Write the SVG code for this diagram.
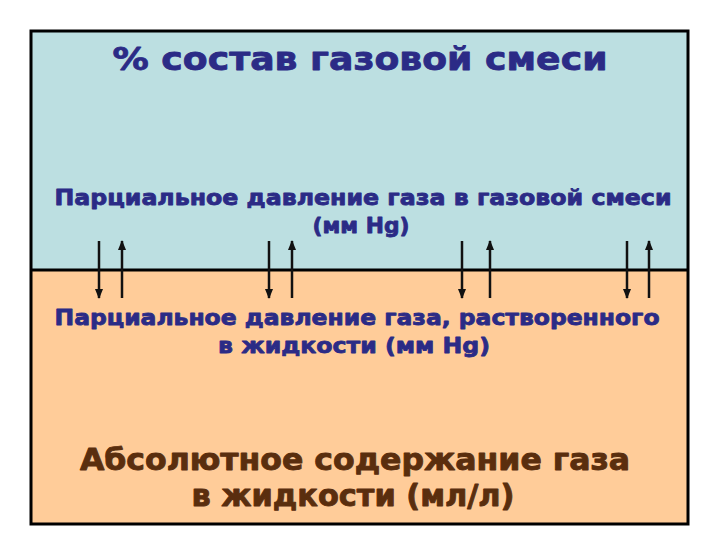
<svg xmlns="http://www.w3.org/2000/svg" width="720" height="540" viewBox="0 0 720 540">
<defs>
<marker id="ah" viewBox="0 0 10 8" refX="9" refY="4" markerWidth="10" markerHeight="8" markerUnits="userSpaceOnUse" orient="auto">
<path d="M0,0 L10,4 L0,8 Z" fill="#111"/>
</marker>
<style>
.t{font-family:"DejaVu Sans","Liberation Sans",sans-serif;font-weight:bold;text-anchor:middle;stroke-linejoin:round}
.blue{fill:#2B2B86;stroke:#2B2B86;stroke-width:0.8}
.brown{fill:#5A2E0E;stroke:#5A2E0E;stroke-width:0.9}
.ar{stroke:#111;stroke-width:2.5;fill:none}
</style>
</defs>
<rect width="720" height="540" fill="#fff"/>
<g id="gas">
<rect x="31" y="31" width="657" height="239" fill="#BCDFE1"/>
<text class="t blue" x="360" y="70" font-size="32" textLength="495" lengthAdjust="spacingAndGlyphs">% состав газовой смеси</text>
<text class="t blue" x="363" y="205" font-size="21" textLength="617" lengthAdjust="spacingAndGlyphs">Парциальное давление газа в газовой смеси</text>
<text class="t blue" x="361" y="233" font-size="21" textLength="97" lengthAdjust="spacingAndGlyphs">(мм Hg)</text>
</g>
<g id="liquid">
<rect x="31" y="270" width="657" height="254" fill="#FFCC99"/>
<text class="t blue" x="357" y="325" font-size="21" textLength="605" lengthAdjust="spacingAndGlyphs">Парциальное давление газа, растворенного</text>
<text class="t blue" x="354" y="353" font-size="21" textLength="272" lengthAdjust="spacingAndGlyphs">в жидкости (мм Hg)</text>
<text class="t brown" x="355" y="470" font-size="30" textLength="550" lengthAdjust="spacingAndGlyphs">Абсолютное содержание газа</text>
<text class="t brown" x="353" y="506" font-size="30" textLength="323" lengthAdjust="spacingAndGlyphs">в жидкости (мл/л)</text>
</g>
<g id="frame">
<line x1="31" y1="270" x2="688" y2="270" stroke="#000" stroke-width="3"/>
<rect x="31" y="31" width="657" height="493" fill="none" stroke="#000" stroke-width="3"/>
</g>
<g id="connectors">
<line class="ar" x1="99" y1="241" x2="99" y2="298" marker-end="url(#ah)"/>
<line class="ar" x1="122" y1="298" x2="122" y2="241" marker-end="url(#ah)"/>
<line class="ar" x1="269" y1="241" x2="269" y2="298" marker-end="url(#ah)"/>
<line class="ar" x1="292" y1="298" x2="292" y2="241" marker-end="url(#ah)"/>
<line class="ar" x1="462" y1="241" x2="462" y2="298" marker-end="url(#ah)"/>
<line class="ar" x1="490" y1="298" x2="490" y2="241" marker-end="url(#ah)"/>
<line class="ar" x1="627" y1="241" x2="627" y2="298" marker-end="url(#ah)"/>
<line class="ar" x1="649" y1="298" x2="649" y2="241" marker-end="url(#ah)"/>
</g>
</svg>
